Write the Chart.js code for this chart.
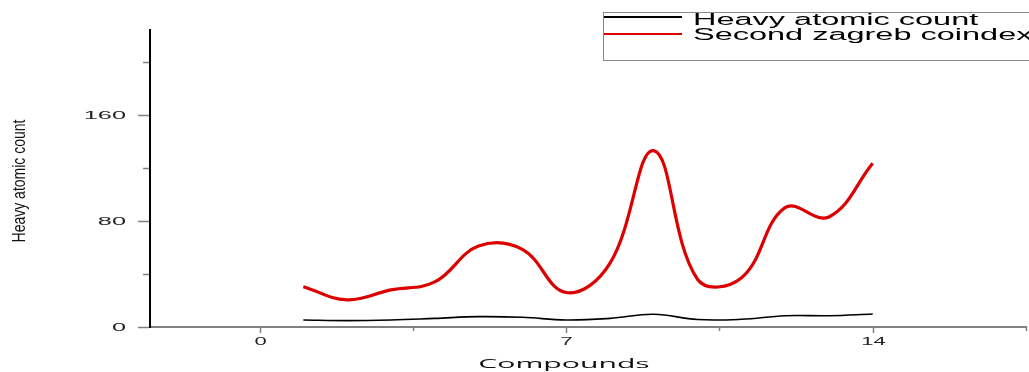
<!DOCTYPE html>
<html>
<head>
<meta charset="utf-8">
<script src="https://cdn.jsdelivr.net/npm/chart.js@4/dist/chart.umd.min.js"></script>
<style>
  html, body { margin: 0; padding: 0; background: #ffffff; }
  #wrap { width: 1029px; height: 372px; }
</style>
</head>
<body>
<div id="wrap"><canvas id="c" width="1029" height="372"></canvas></div>
<script>
// ---- data ----
const compounds = [1, 2, 3, 4, 5, 6, 7, 8, 9, 10, 11, 12, 13, 14];
const heavyAtomicCount = [5.3, 4.8, 5.3, 6.5, 7.8, 7.3, 5.3, 6.5, 9.6, 5.6, 5.8, 8.5, 8.5, 9.8];
const secondZagrebCoindex = [30.4, 20.5, 28, 34, 61, 58.5, 26, 48, 133, 36, 37, 90, 83, 123.5];
const seriesLabels = ['Heavy atomic count', 'Second zagreb coindex'];
const xTickValues = [0, 3.5, 7, 10.5, 14, 17.5];
const xLabelValues = [0, 7, 14];
const yTickValues = [0, 40, 80, 120, 160, 200];
const yLabelValues = [0, 80, 160];
const xTitle = 'Compounds';
const yTitle = 'Heavy atomic count';

function drawStretched(ctx, text, x, y, sx, sy, align, baseline, font, color) {
  ctx.save();
  ctx.translate(x, y);
  ctx.scale(sx, sy);
  ctx.font = font;
  ctx.textAlign = align;
  ctx.textBaseline = baseline;
  ctx.fillStyle = color || '#111';
  ctx.fillText(text, 0, 0);
  ctx.restore();
}

const decorPlugin = {
  id: 'decor',
  afterDraw(chart) {
    const ctx = chart.ctx;
    const xs = chart.scales.x, ys = chart.scales.y;
    const area = chart.chartArea;
    ctx.save();
    ctx.strokeStyle = '#808080';
    ctx.lineWidth = 1.5;
    // y ticks + labels
    yTickValues.forEach(v => {
      const py = Math.round(ys.getPixelForValue(v)) + 0.5;
      const major = yLabelValues.includes(v);
      ctx.beginPath();
      ctx.moveTo(area.left - (major ? 12 : 7), py);
      ctx.lineTo(area.left - 1, py);
      ctx.stroke();
      if (major) drawStretched(ctx, String(v), 126, py, 2.3, 1, 'right', 'middle', '11px "Liberation Sans"', '#222');
    });
    // x ticks + labels
    xTickValues.forEach(v => {
      const px = Math.round(xs.getPixelForValue(v)) + 0.5;
      const major = xLabelValues.includes(v);
      ctx.beginPath();
      ctx.moveTo(px, area.bottom);
      ctx.lineTo(px, area.bottom + (major ? 6 : 4));
      ctx.stroke();
      if (major) drawStretched(ctx, String(v), px, 345, 2.0, 1, 'center', 'alphabetic', '11px "Liberation Sans"', '#222');
    });
    // axis titles
    drawStretched(ctx, xTitle, 564, 368, 2.32, 1, 'center', 'alphabetic', '13px "Open Sans"', '#111');
    ctx.save();
    ctx.translate(20, 181);
    ctx.rotate(-Math.PI / 2);
    ctx.scale(1, 1.25);
    ctx.font = '14px "Liberation Sans"';
    ctx.textAlign = 'center';
    ctx.textBaseline = 'middle';
    ctx.fillStyle = '#111';
    ctx.fillText(yTitle, 0, 0);
    ctx.restore();
    // legend
    ctx.strokeStyle = '#8a8a8a';
    ctx.lineWidth = 1;
    ctx.strokeRect(603.5, 12.5, 520, 48);
    const rows = [{ y: 17, base: 25 }, { y: 34, base: 40 }];
    chart.data.datasets.forEach((ds, i) => {
      ctx.strokeStyle = ds.borderColor;
      ctx.lineWidth = 2;
      ctx.beginPath();
      ctx.moveTo(604, rows[i].y);
      ctx.lineTo(682, rows[i].y);
      ctx.stroke();
      drawStretched(ctx, ds.label, 693, rows[i].base, 2.03, 1, 'left', 'alphabetic', '16px "Liberation Sans"', '#000');
    });
    ctx.restore();
  }
};

new Chart(document.getElementById('c'), {
  type: 'line',
  data: {
    datasets: [
      {
        label: seriesLabels[0],
        data: compounds.map((c, i) => ({ x: c, y: heavyAtomicCount[i] })),
        borderColor: '#000000',
        borderWidth: 1.6,
        pointRadius: 0,
        tension: 0.4,
        fill: false
      },
      {
        label: seriesLabels[1],
        data: compounds.map((c, i) => ({ x: c, y: secondZagrebCoindex[i] })),
        borderColor: '#dc0000',
        borderWidth: 3.2,
        pointRadius: 0,
        tension: 0.4,
        fill: false
      }
    ]
  },
  options: {
    responsive: false,
    animation: false,
    devicePixelRatio: 1,
    layout: { padding: { left: 0, right: 3, top: 30, bottom: 0 } },
    plugins: {
      legend: { display: false },
      tooltip: { enabled: false },
      title: { display: false }
    },
    scales: {
      x: {
        type: 'linear',
        min: -2.5,
        max: 17.5,
        afterBuildTicks: s => { s.ticks = xTickValues.map(v => ({ value: v })); },
        afterFit: s => { s.height = 45; },
        ticks: { display: false },
        grid: { display: false },
        border: { display: true, color: '#808080', width: 2 }
      },
      y: {
        type: 'linear',
        min: 0,
        max: 224,
        afterBuildTicks: s => { s.ticks = yTickValues.map(v => ({ value: v })); },
        afterFit: s => { s.width = 150; },
        ticks: { display: false },
        grid: { display: false },
        border: { display: true, color: '#000000', width: 2 }
      }
    }
  },
  plugins: [decorPlugin]
});
</script>
</body>
</html>
